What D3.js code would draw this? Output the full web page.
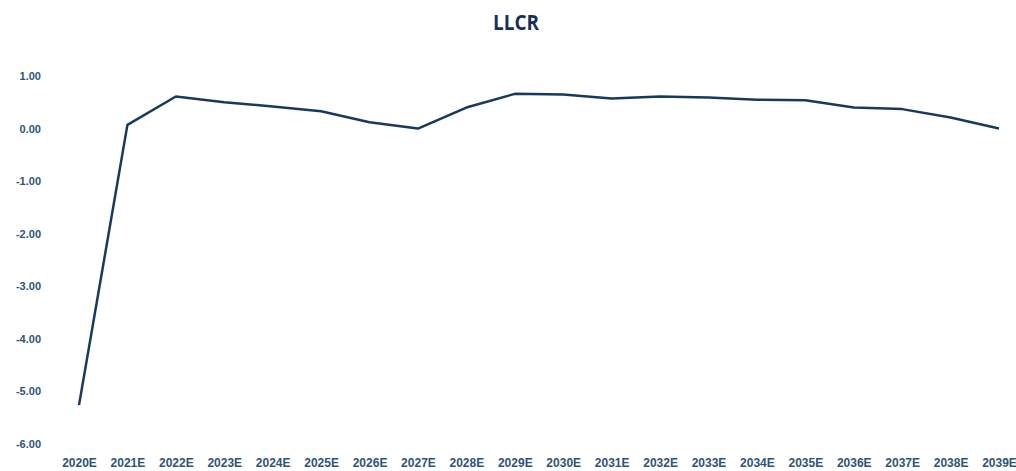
<!doctype html>
<html lang="en">
  <head>
    <meta charset="UTF-8" />
    <title>LLCR</title>
    <script src="https://d3js.org/d3.v7.min.js"></script>
    <style>
      body {
        margin: 0;
        padding: 0;
        background: #fff;
        overflow: hidden;
        font-family: "Liberation Sans", Arial, sans-serif;
      }
      svg {
        display: block;
      }
    </style>
  </head>
  <body>
    <script>
      const years = [
        "2020E", "2021E", "2022E", "2023E", "2024E", "2025E", "2026E",
        "2027E", "2028E", "2029E", "2030E", "2031E", "2032E", "2033E",
        "2034E", "2035E", "2036E", "2037E", "2038E", "2039E",
      ];
      const llcr = [
        -5.26, 0.07, 0.61, 0.5, 0.42, 0.33, 0.12, 0.0, 0.4, 0.66,
        0.65, 0.57, 0.61, 0.59, 0.55, 0.54, 0.4, 0.37, 0.21, 0.0,
      ];
      const yTicks = [1, 0, -1, -2, -3, -4, -5, -6];

      const width = 1016;
      const height = 471;

      const svg = d3
        .select("body")
        .append("svg")
        .attr("width", width)
        .attr("height", height);

      const x = d3.scalePoint().domain(years).range([79, 999]);
      const y = d3.scaleLinear().domain([-6, 1]).range([444, 76]);

      svg
        .append("text")
        .attr("x", 516)
        .attr("y", 30)
        .attr("text-anchor", "middle")
        .attr("textLength", 46)
        .attr("lengthAdjust", "spacingAndGlyphs")
        .style("font", "bold 22px 'Open Sans', sans-serif")
        .style("fill", "#1a2f57")
        .text("LLCR");

      // plain hyphen instead of d3's unicode minus
      const fmt = (d) => d.toFixed(2);

      const yAxis = svg
        .append("g")
        .attr("transform", "translate(41,0)")
        .call(d3.axisLeft(y).tickValues(yTicks).tickFormat(fmt).tickSize(0).tickPadding(0));
      yAxis.select(".domain").remove();
      yAxis
        .selectAll("text")
        .style("font", "bold 11px 'Liberation Sans', Arial, sans-serif")
        .style("fill", "#2e5478");

      const xAxis = svg
        .append("g")
        .attr("transform", "translate(0,458)")
        .call(d3.axisBottom(x).tickSize(0).tickPadding(0));
      xAxis.select(".domain").remove();
      xAxis
        .selectAll("text")
        .style("font", "bold 12px 'Liberation Sans', Arial, sans-serif")
        .style("fill", "#2e5478");

      const line = d3
        .line()
        .x((d, i) => x(years[i]))
        .y((d) => y(d));

      svg
        .append("path")
        .datum(llcr)
        .attr("fill", "none")
        .attr("stroke", "#17395e")
        .attr("stroke-width", 2.5)
        .attr("stroke-linejoin", "round")
        .attr("d", line);
    </script>
  </body>
</html>
